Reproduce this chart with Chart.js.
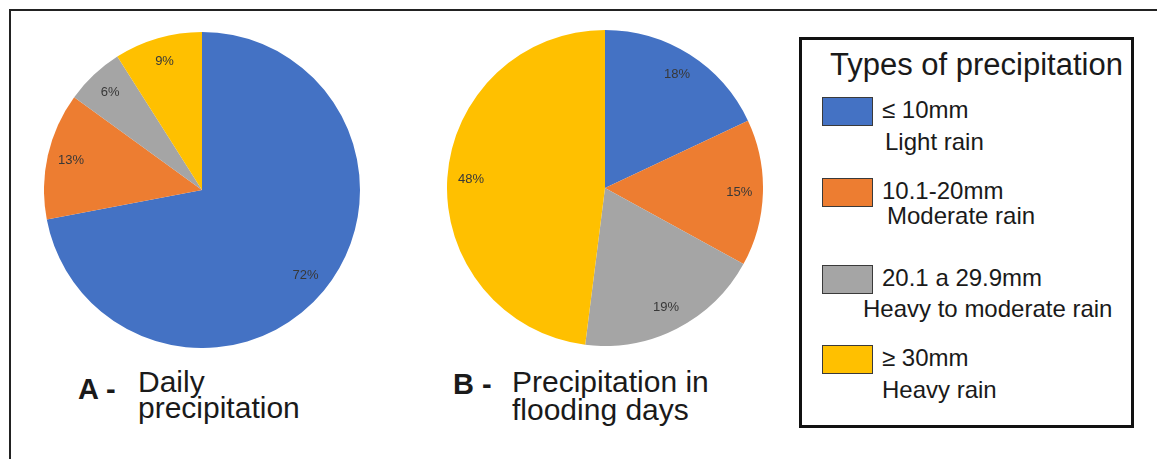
<!DOCTYPE html>
<html>
<head>
<meta charset="utf-8">
<script src="https://cdn.jsdelivr.net/npm/chart.js"></script>
<style>
  html, body { margin: 0; padding: 0; background: #fff; }
  body { width: 1157px; height: 459px; position: relative; overflow: hidden; font-family: "Liberation Sans", Arial, sans-serif; color: #1a1a1a; }
  .frame { position: absolute; left: 9px; top: 9px; right: -5px; bottom: -5px; border-left: 2px solid #222; border-top: 2px solid #222; }
  .pie { position: absolute; width: 316px; height: 316px; }
  .txt { position: absolute; white-space: nowrap; line-height: 1; }
  .legend-box { position: absolute; left: 799px; top: 37px; width: 329px; height: 385px; border: 3px solid #111; }
  .swatch { position: absolute; width: 49px; height: 27px; border: 1.5px solid #3a3a3a; }
</style>
</head>
<body>
<div class="frame"></div>
<div class="pie" style="left:44px; top:32px;"><canvas id="pieDaily" width="316" height="316"></canvas></div>
<div class="pie" style="left:447px; top:30px;"><canvas id="pieFlood" width="316" height="316"></canvas></div>
<div class="legend-box"></div>
<div id="texts"></div>

<script>
    // precipitation classes
    const rangeLabels = ['≤ 10mm', '10.1-20mm', '20.1 a 29.9mm', '≥ 30mm'];
    const rainTypes = ['Light rain', 'Moderate rain', 'Heavy to moderate rain', 'Heavy rain'];

    // shares in percent
    const dailyShare = [72, 13, 6, 9];
    const floodShare = [18, 15, 19, 48];

    const legendTitle = 'Types of precipitation';

    const sliceColors = ['#4472C4', '#ED7D31', '#A5A5A5', '#FFC000'];

    const textLayer = document.getElementById('texts');

    // put a line of text with its baseline at y
    function placeText(str, x, baseline, size, weight) {
        const el = document.createElement('div');
        el.className = 'txt';
        el.textContent = str;
        el.style.left = x + 'px';
        el.style.top = (baseline - 0.8465 * size) + 'px';
        el.style.fontSize = size + 'px';
        if (weight) el.style.fontWeight = weight;
        textLayer.appendChild(el);
    }

    // captions under the pies
    placeText('A -', 78, 400, 29, 'bold');
    placeText('Daily', 138, 392, 30);
    placeText('precipitation', 138, 418, 30);
    placeText('B -', 453, 395, 29, 'bold');
    placeText('Precipitation in', 512, 392, 30);
    placeText('flooding days', 512, 420, 30);

    // legend
    placeText(legendTitle, 830, 75, 31);
    const swatchTops = [97, 178, 265, 345];
    const descBaselines = [150, 224, 317, 398];
    const descLeft = [885, 887, 863, 882];
    rangeLabels.forEach((label, i) => {
        const sw = document.createElement('div');
        sw.className = 'swatch';
        sw.style.left = '822px';
        sw.style.top = swatchTops[i] + 'px';
        sw.style.background = sliceColors[i];
        textLayer.appendChild(sw);
        placeText(label, 882, swatchTops[i] + 21.5, 24);
        placeText(rainTypes[i], descLeft[i], descBaselines[i], 24);
    });

    const pctLabels = {
        id: 'pctLabels',
        afterDatasetsDraw(chart) {
            const ctx = chart.ctx;
            const meta = chart.getDatasetMeta(0);
            const values = chart.data.datasets[0].data;
            ctx.save();
            ctx.font = '13px "Liberation Sans", Arial, sans-serif';
            ctx.fillStyle = '#383838';
            ctx.textAlign = 'center';
            ctx.textBaseline = 'middle';
            meta.data.forEach((arc, i) => {
                const p = arc.getProps(['x', 'y', 'startAngle', 'endAngle', 'outerRadius']);
                const mid = (p.startAngle + p.endAngle) / 2;
                const r = p.outerRadius * 0.85;
                ctx.fillText(values[i] + '%', p.x + Math.cos(mid) * r, p.y + Math.sin(mid) * r);
            });
            ctx.restore();
        }
    };

    function makePie(id, values) {
        return new Chart(document.getElementById(id), {
            type: 'pie',
            data: {
                labels: rainTypes,
                datasets: [{
                    data: values,
                    backgroundColor: sliceColors,
                    borderWidth: 0
                }]
            },
            options: {
                responsive: false,
                animation: false,
                layout: { padding: 0 },
                plugins: {
                    legend: { display: false },
                    tooltip: { enabled: false }
                }
            },
            plugins: [pctLabels]
        });
    }

    makePie('pieDaily', dailyShare);
    makePie('pieFlood', floodShare);
</script>
</body>
</html>
